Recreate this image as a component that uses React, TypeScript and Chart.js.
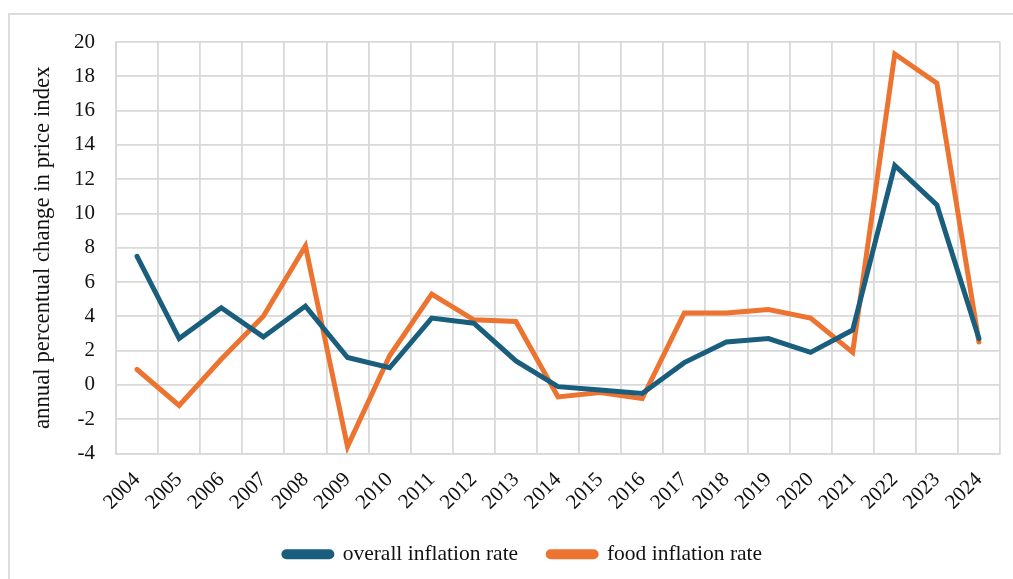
import React, { useEffect, useRef } from "react";
import { Chart, registerables } from "chart.js";

Chart.register(...registerables);

const years = ["2004","2005","2006","2007","2008","2009","2010","2011","2012","2013","2014","2015","2016","2017","2018","2019","2020","2021","2022","2023","2024"];
const overallInflation = [7.5, 2.7, 4.5, 2.8, 4.6, 1.6, 1.0, 3.9, 3.6, 1.4, -0.1, -0.3, -0.5, 1.3, 2.5, 2.7, 1.9, 3.2, 12.8, 10.5, 2.7];
const foodInflation = [0.9, -1.2, 1.5, 4.0, 8.1, -3.6, 1.7, 5.3, 3.8, 3.7, -0.7, -0.45, -0.8, 4.2, 4.2, 4.4, 3.9, 1.9, 19.3, 17.6, 2.5];
const seriesNames = ["overall inflation rate", "food inflation rate"];
const yTitle = "annual percentual change in price index";

const BLUE = "#1a5e7e";
const ORANGE = "#ec7330";
const GRID = "#d9d9d9";
const FONT = "'Liberation Serif', 'Times New Roman', serif";

export default function App() {
  const ref = useRef<HTMLCanvasElement | null>(null);
  useEffect(() => {
    document.body.style.margin = "0";
    document.body.style.overflow = "hidden";
    if (!ref.current) return;
    const chart = new Chart(ref.current, {
      type: "line",
      data: {
        labels: years,
        datasets: [
          { label: seriesNames[0], data: overallInflation, borderColor: BLUE, backgroundColor: BLUE, borderWidth: 5, pointRadius: 0, tension: 0, borderCapStyle: "round", borderJoinStyle: "miter" },
          { label: seriesNames[1], data: foodInflation, borderColor: ORANGE, backgroundColor: ORANGE, borderWidth: 5, pointRadius: 0, tension: 0, borderCapStyle: "round", borderJoinStyle: "miter" },
        ],
      },
      options: {
        responsive: false,
        animation: false,
        layout: { padding: { left: 46, top: 42, right: 13, bottom: 4 } },
        plugins: {
          legend: {
            position: "bottom",
            labels: {
              font: { family: FONT, size: 21.5 },
              color: "#111",
              boxWidth: 48,
              boxHeight: 5,
              padding: 30,
              useBorderRadius: true,
              borderRadius: 2.5,
            },
          },
          tooltip: { enabled: false },
        },
        scales: {
          x: {
            offset: true,
            grid: { color: GRID, lineWidth: 1.8, offset: true, drawTicks: false },
            border: { color: GRID, width: 1.8 },
            ticks: { font: { family: FONT, size: 21 }, color: "#111", maxRotation: 45, minRotation: 45, padding: 14, autoSkip: false },
            afterFit: (s: any) => { s.height = 60; },
          },
          y: {
            min: -4,
            max: 20,
            grid: { color: GRID, lineWidth: 1.8, drawTicks: false },
            border: { color: GRID, width: 1.8 },
            ticks: { stepSize: 2, font: { family: FONT, size: 21 }, color: "#111", padding: 21 },
            title: { display: true, text: yTitle, font: { family: FONT, size: 22.8 }, color: "#111", padding: { top: -17, bottom: 0 } },
            afterFit: (s: any) => { s.width = 70; },
          },
        },
      },
    });
    return () => chart.destroy();
  }, []);
  return (
    <div style={{ position: "absolute", left: 0, top: 0, width: 1013, height: 579, background: "#fff", overflow: "hidden" }}>
      <div style={{ position: "absolute", left: 8, top: 13, width: 1100, height: 700, border: "2px solid #dcdcdc" }} />
      <canvas ref={ref} width={1013} height={579} style={{ position: "absolute", left: 0, top: 0 }} />
    </div>
  );
}
